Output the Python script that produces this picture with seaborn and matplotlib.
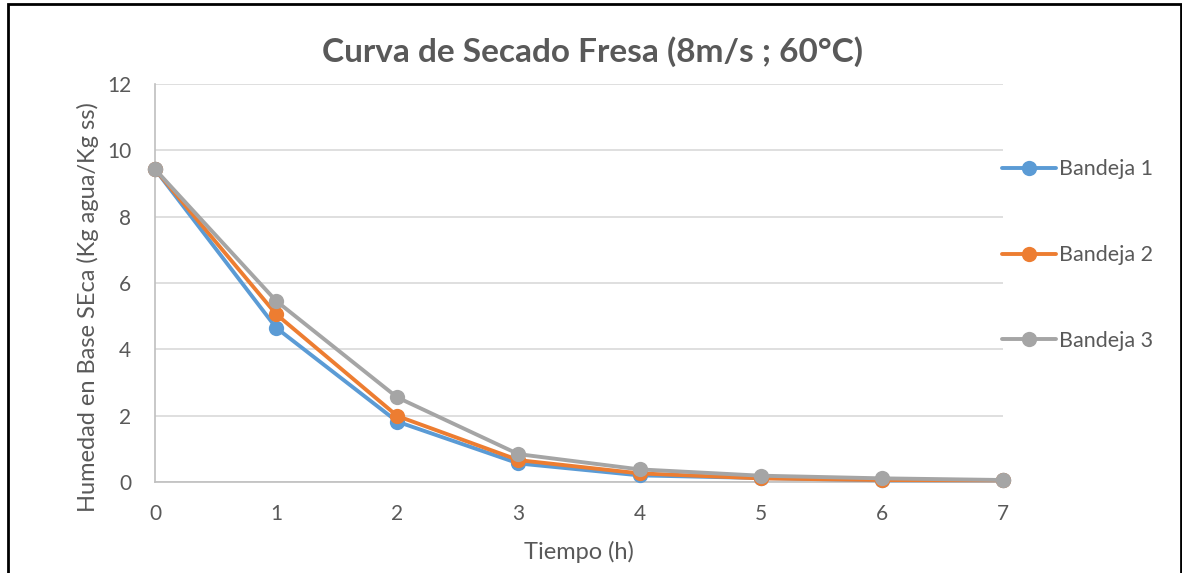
import matplotlib
matplotlib.use("Agg")
import matplotlib.pyplot as plt
import seaborn as sns
import pandas as pd
from matplotlib.patches import Rectangle

tiempo = [0, 1, 2, 3, 4, 5, 6, 7]
bandeja1 = [9.43, 4.65, 1.82, 0.56, 0.20, 0.12, 0.05, 0.05]
bandeja2 = [9.43, 5.06, 1.99, 0.66, 0.26, 0.11, 0.06, 0.05]
bandeja3 = [9.43, 5.46, 2.55, 0.84, 0.38, 0.19, 0.11, 0.06]
series_names = ["Bandeja 1", "Bandeja 2", "Bandeja 3"]
colors = ["#5B9BD5", "#ED7D31", "#A5A5A5"]
yticks = [0, 2, 4, 6, 8, 10, 12]
title = "Curva de Secado Fresa (8m/s ; 60°C)"
xlabel = "Tiempo (h)"
ylabel = "Humedad en Base SEca (Kg agua/Kg ss)"

df = pd.DataFrame({
    "Tiempo": tiempo * 3,
    "Humedad": bandeja1 + bandeja2 + bandeja3,
    "Serie": [s for s in series_names for _ in tiempo],
})

sns.set_theme(style="white")
plt.rcParams["font.family"] = ["Lato", "DejaVu Sans"]
txt = "#595959"

fig = plt.figure(figsize=(11.82, 5.73), dpi=100)
W, H = 1182, 573
ax = fig.add_axes([155 / W, 1 - 482 / H, (1003 - 155) / W, (482 - 84) / H])

sns.lineplot(data=df, x="Tiempo", y="Humedad", hue="Serie", palette=colors,
             marker="o", markersize=11, markeredgewidth=0, linewidth=2.8,
             ax=ax, clip_on=False, legend=True, zorder=3)

ax.set_xlim(0, 7)
ax.set_ylim(0, 12)
ax.set_yticks(yticks)
ax.set_xticks(tiempo)
ax.grid(axis="y", color="#D9D9D9", linewidth=1.2)
ax.grid(axis="x", visible=False)
for s in ["top", "right"]:
    ax.spines[s].set_visible(False)
ax.spines["left"].set_color("#BFBFBF")
ax.spines["bottom"].set_color("#BFBFBF")
ax.spines["left"].set_linewidth(1.2)
ax.spines["bottom"].set_linewidth(1.2)
ax.tick_params(axis="both", colors=txt, labelsize=15, length=0)
ax.tick_params(axis="x", pad=16)
ax.tick_params(axis="y", pad=17)
ax.set_xlabel(xlabel, fontsize=17, color=txt, labelpad=12)
ax.set_ylabel(ylabel, fontsize=17, color=txt)
# place the y label center at pixel (88, 307)
ax.yaxis.set_label_coords((88 - 155) / (1003 - 155), (482 - 307) / (482 - 84))
ax.yaxis.label.set_verticalalignment("center")

fig.text(593 / W, 1 - 52 / H, title, ha="center", va="center",
         fontsize=24, fontweight="bold", color=txt)

leg = ax.legend(loc="upper left", bbox_to_anchor=(983 / W, 1 - 140 / H),
                bbox_transform=fig.transFigure, frameon=False,
                fontsize=15.5, labelspacing=3.05, handlelength=2.5,
                handletextpad=0.15)
for t in leg.get_texts():
    t.set_color(txt)

fig.patches.append(Rectangle((8 / W, -0.05), (1181 - 8) / W, 1 - 4 / H + 0.05,
                             transform=fig.transFigure, fill=False,
                             edgecolor="black", linewidth=2))

fig.savefig("out.png", dpi=100)
